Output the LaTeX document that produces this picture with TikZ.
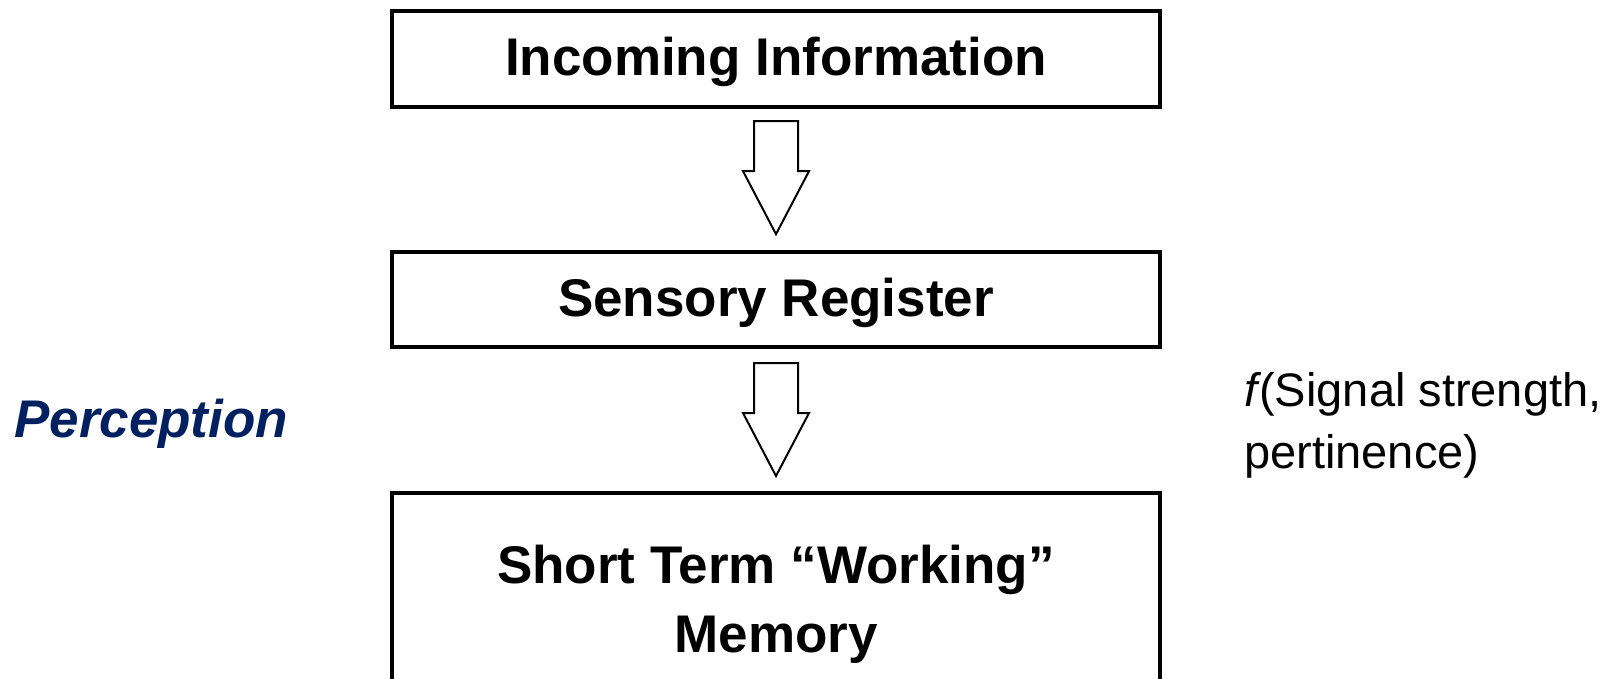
\documentclass[tikz,border=0pt]{standalone}
\usepackage{fontspec}
\setmainfont{Liberation Sans}
\definecolor{navy}{RGB}{0,32,96}
\begin{document}
\begin{tikzpicture}[x=1pt,y=-1pt,
  box/.style={draw,line width=3.7pt,minimum width=768pt,inner sep=0pt,align=center,
    text height=38pt,text depth=5pt,
    font=\fontsize{53}{67}\selectfont\bfseries},
  hollow/.style={draw,line width=2pt,fill=white,line join=miter}]
\clip (0,0) rectangle (1616,678);
\useasboundingbox (0,0) rectangle (1616,678);
\node[box,minimum height=96pt] (b1) at (776,59) {Incoming Information};
\node[box,minimum height=95pt] (b2) at (776,299.5) {Sensory Register};
\node[box,minimum height=260pt,anchor=north] (b3) at (776,491) {};
\node[font=\fontsize{53}{69}\selectfont\bfseries,align=center] (t3) at (776,604) {Short Term “Working”\\Memory};
% arrows
\coordinate (a1t) at ([yshift=16pt]b2.north);
\coordinate (a2t) at ([yshift=15pt]b3.north);
\draw[hollow] (a1t) -- ++(-33,-63) -- ++(11,0) -- ++(0,-50) -- ++(44,0) -- ++(0,50) -- ++(11,0) -- cycle;
\draw[hollow] (a2t) -- ++(-33,-63) -- ++(11,0) -- ++(0,-50) -- ++(44,0) -- ++(0,50) -- ++(11,0) -- cycle;
\node[anchor=west,inner sep=0pt,text=navy,font=\fontsize{53}{60}\selectfont\bfseries\itshape] (perc) at (14,424) {Perception};
\node[anchor=west,inner sep=0pt,align=left,font=\fontsize{47}{62}\selectfont] (fs) at (1244,425) {\textit{f}\kern-2pt(Signal strength,\\pertinence)};
\end{tikzpicture}
\end{document}
